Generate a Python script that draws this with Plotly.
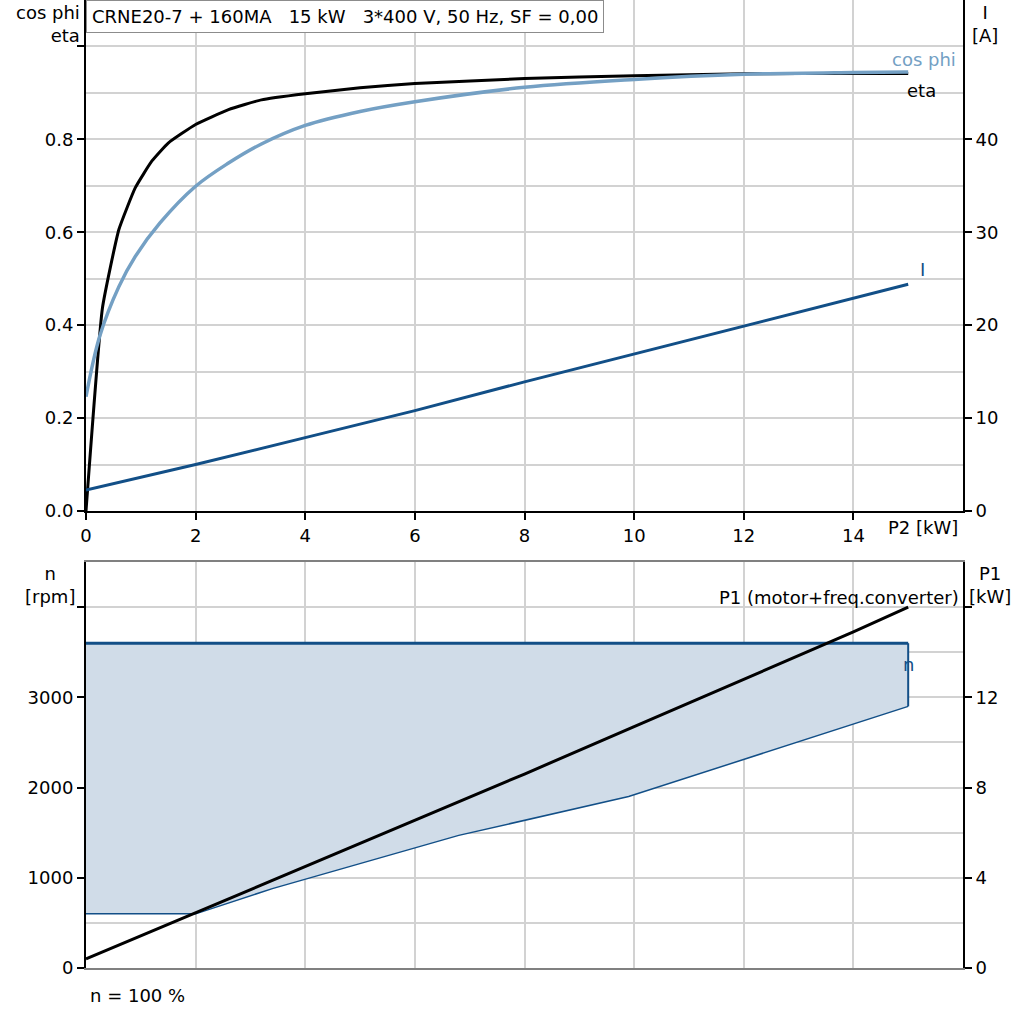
import plotly.graph_objects as go

# ---- data ----
p2_eta = [0, 0.3, 0.6, 0.9, 1.2, 1.5, 2.0, 2.6, 3.2, 4.0, 5.0, 6.0, 8.0, 10.0, 12.0, 14.0, 15.0]
eta = [0.0, 0.437, 0.606, 0.696, 0.753, 0.792, 0.832, 0.864, 0.885, 0.898, 0.911, 0.920, 0.931, 0.937, 0.941, 0.942, 0.942]

p2_cos = [0, 0.25, 0.6, 0.9, 1.35, 2.0, 2.6, 3.2, 4.0, 5.0, 6.0, 8.0, 10.0, 12.0, 14.0, 15.0]
cos_phi = [0.246, 0.376, 0.483, 0.548, 0.620, 0.699, 0.749, 0.790, 0.830, 0.860, 0.881, 0.912, 0.929, 0.940, 0.944, 0.945]

p2_i = [0, 2, 4, 6, 8, 10, 12, 14, 15]
current = [2.25, 5.0, 7.9, 10.8, 13.9, 16.9, 19.9, 22.9, 24.4]

p2_n = [0, 2.0, 3.4, 6.8, 9.9, 15.0]
n_min = [600, 600, 880, 1470, 1900, 2900]
n_max = 3600

p2_p1 = [0, 2, 4, 6, 8, 10, 12, 14, 15]
p1 = [0.4, 2.45, 4.5, 6.55, 8.6, 10.7, 12.8, 14.9, 16.0]

x_ticks = [0, 2, 4, 6, 8, 10, 12, 14]
eta_ticks = [0.0, 0.2, 0.4, 0.6, 0.8, 1.0]
eta_labels = ['0.0', '0.2', '0.4', '0.6', '0.8', '']
i_ticks = [0, 10, 20, 30, 40]
n_ticks = [0, 1000, 2000, 3000, 4000]
n_labels = ['0', '1000', '2000', '3000', '']
p1_ticks = [0, 4, 8, 12, 16]
p1_labels = ['0', '4', '8', '12', '']

title = 'CRNE20-7 + 160MA\u00a0\u00a0\u00a015 kW\u00a0\u00a0\u00a03*400 V, 50 Hz, SF = 0,00'

# colours
BLACK = '#000000'
COS_C = '#74a0c4'
I_C = '#124f87'
FILL_C = '#d0dce8'
GRID_C = '#d2d2d2'

fig = go.Figure()

# top panel
fig.add_trace(go.Scatter(x=p2_eta, y=eta, mode='lines', line=dict(color=BLACK, width=3, shape='spline', smoothing=0.4),
                         xaxis='x', yaxis='y', name='eta'))
fig.add_trace(go.Scatter(x=p2_cos, y=cos_phi, mode='lines', line=dict(color=COS_C, width=3.5, shape='spline', smoothing=1.0),
                         xaxis='x', yaxis='y', name='cos phi'))
fig.add_trace(go.Scatter(x=p2_i, y=current, mode='lines', line=dict(color=I_C, width=3),
                         xaxis='x', yaxis='y2', name='I'))

# bottom panel: speed range
fig.add_trace(go.Scatter(x=p2_n + [p2_n[-1], p2_n[0]], y=n_min + [n_max, n_max], mode='lines',
                         fill='toself', fillcolor=FILL_C, line=dict(width=0),
                         xaxis='x2', yaxis='y3', name='n area'))
fig.add_trace(go.Scatter(x=p2_n, y=n_min, mode='lines', line=dict(color=I_C, width=1.5),
                         xaxis='x2', yaxis='y3', name='n min'))
fig.add_trace(go.Scatter(x=[p2_n[-1], p2_n[-1]], y=[n_min[-1], n_max], mode='lines', line=dict(color=I_C, width=2),
                         xaxis='x2', yaxis='y3', name='n edge'))
fig.add_trace(go.Scatter(x=[p2_n[0], p2_n[-1]], y=[n_max, n_max], mode='lines', line=dict(color=I_C, width=3),
                         xaxis='x2', yaxis='y3', name='n max'))
fig.add_trace(go.Scatter(x=p2_p1, y=p1, mode='lines', line=dict(color=BLACK, width=3),
                         xaxis='x2', yaxis='y4', name='P1'))

L, R, T, B = 86, 61, 0, 56
PH = 1024 - T - B
PW = 1024 - L - R


def px(xp):
    return (xp - L) / PW


def py(yp):
    return (PH - yp) / PH


axis_common = dict(showline=True, linecolor=BLACK, linewidth=2, ticks='outside', ticklen=7,
                   tickcolor=BLACK, tickwidth=2, zeroline=False)

fig.update_layout(
    width=1024, height=1024,
    margin=dict(l=L, r=R, t=T, b=B),
    paper_bgcolor='white', plot_bgcolor='white',
    showlegend=False,
    font=dict(family='DejaVu Sans', size=18, color=BLACK),
    xaxis=dict(domain=[0, 1], anchor='y', range=[0, 16], tickvals=x_ticks,
               showgrid=True, gridcolor=GRID_C, gridwidth=1.5, **axis_common),
    yaxis=dict(domain=[py(511), 1], anchor='x', range=[0, 1.1], tickvals=eta_ticks, ticktext=eta_labels,
               showgrid=True, gridcolor=GRID_C, gridwidth=1.5,
               minor=dict(dtick=0.1, tick0=0, showgrid=True, gridcolor=GRID_C, gridwidth=1.5, ticks=''),
               **axis_common),
    yaxis2=dict(overlaying='y', side='right', anchor='x', range=[0, 55], tickvals=i_ticks,
                showgrid=False, **axis_common),
    xaxis2=dict(domain=[0, 1], anchor='y3', range=[0, 16], tickvals=x_ticks, showticklabels=False,
                showgrid=True, gridcolor=GRID_C, gridwidth=1.5, showline=True, linecolor='#808080',
                linewidth=2, mirror=True, ticks='', zeroline=False),
    yaxis3=dict(domain=[0, py(562)], anchor='x2', range=[0, 4500], tickvals=n_ticks, ticktext=n_labels,
                showgrid=True, gridcolor=GRID_C, gridwidth=1.5,
                minor=dict(dtick=500, tick0=0, showgrid=True, gridcolor=GRID_C, gridwidth=1.5, ticks=''),
                **axis_common),
    yaxis4=dict(overlaying='y3', side='right', anchor='x2', range=[0, 18], tickvals=p1_ticks, ticktext=p1_labels,
                showgrid=False, **axis_common),
)

ann = []
ann.append(dict(text=title, xref='paper', yref='paper', x=0, y=1, xanchor='left', yanchor='top',
                showarrow=False, bgcolor='white', bordercolor='#8c8c8c', borderwidth=1, borderpad=5))
ann.append(dict(text='cos phi<br>eta', xref='paper', yref='paper', x=px(82), y=1, xanchor='right',
                yanchor='top', align='right', showarrow=False))
ann.append(dict(text='I<br>[A]', xref='paper', yref='paper', x=px(985), y=1, xanchor='center',
                yanchor='top', align='center', showarrow=False))
ann.append(dict(text='P2 [kW]', xref='paper', yref='paper', x=px(960), y=py(527), xanchor='right',
                yanchor='middle', showarrow=False))
ann.append(dict(text='n<br>[rpm]', xref='paper', yref='paper', x=px(50), y=py(561), xanchor='center',
                yanchor='top', align='center', showarrow=False))
ann.append(dict(text='P1<br>[kW]', xref='paper', yref='paper', x=px(990), y=py(561), xanchor='center',
                yanchor='top', align='center', showarrow=False))
ann.append(dict(text='P1 (motor+freq.converter)', xref='paper', yref='paper', x=px(961), y=py(597),
                xanchor='right', yanchor='middle', showarrow=False))
ann.append(dict(text='n = 100 %', xref='paper', yref='paper', x=px(88), y=py(995), xanchor='left',
                yanchor='middle', showarrow=False))
# curve labels
ann.append(dict(text='cos phi', xref='x', yref='y', x=15.9, y=0.971, xanchor='right', yanchor='middle',
                showarrow=False, font=dict(color=COS_C)))
ann.append(dict(text='eta', xref='x', yref='y', x=15.25, y=0.906, xanchor='center', yanchor='middle',
                showarrow=False))
ann.append(dict(text='I', xref='x', yref='y', x=15.27, y=0.519, xanchor='center', yanchor='middle',
                showarrow=False, font=dict(color=I_C)))
ann.append(dict(text='n', xref='x2', yref='y3', x=15.0, y=3360, xanchor='center', yanchor='middle',
                showarrow=False, font=dict(color=I_C)))
fig.update_layout(annotations=ann)

# remove the default 8px page margin so the figure sits at the window origin
fig.write_html('out.html', config={'displayModeBar': False},
               post_script="document.body.style.margin='0';")
